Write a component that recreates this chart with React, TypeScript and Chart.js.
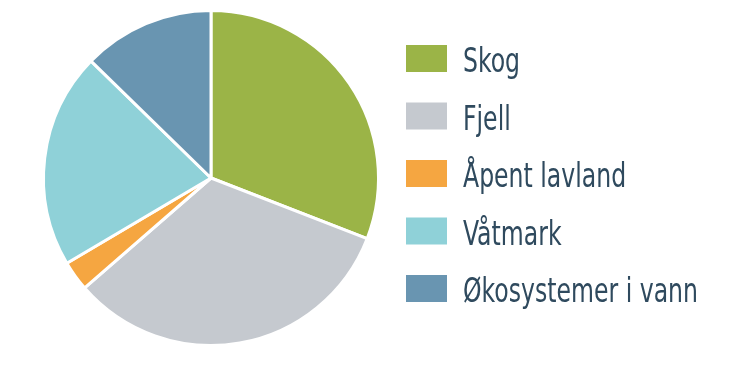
import React, { useEffect, useRef } from "react";
import { Chart, registerables } from "chart.js";

Chart.register(...registerables);

const categories = ["Skog", "Fjell", "Åpent lavland", "Våtmark", "Økosystemer i vann"];
const shares = [30.9, 32.7, 2.9, 20.8, 12.7];
const colors = ["#9bb447", "#c5c9cf", "#f5a641", "#8fd1d8", "#6995b1"];

const legendPlugin = {
  id: "customLegend",
  afterDraw(chart: any) {
    const ctx = chart.ctx;
    const labels = chart.data.labels as string[];
    const bg = chart.data.datasets[0].backgroundColor as string[];
    ctx.save();
    ctx.font = '33px "Liberation Sans Narrow", "DejaVu Sans Condensed", sans-serif';
    ctx.textBaseline = "alphabetic";
    ctx.textAlign = "left";
    let maxW = 0;
    labels.forEach((lab) => {
      maxW = Math.max(maxW, ctx.measureText(lab).width);
    });
    const sx = Math.min(1, 235 / maxW);
    labels.forEach((lab, i) => {
      const top = 45 + i * 57.5;
      ctx.fillStyle = bg[i];
      ctx.fillRect(406, top, 41, 27);
      ctx.fillStyle = "#2f4a5e";
      ctx.save();
      ctx.translate(463, top + 27);
      ctx.scale(sx, 1);
      ctx.fillText(lab, 0, 0);
      ctx.restore();
    });
    ctx.restore();
  },
};

export default function App() {
  const ref = useRef<HTMLCanvasElement>(null);
  useEffect(() => {
    document.body.style.margin = "0";
    const chart = new Chart(ref.current!, {
      type: "pie",
      data: {
        labels: categories,
        datasets: [
          {
            data: shares,
            backgroundColor: colors,
            borderColor: "#ffffff",
            borderWidth: 3,
            hoverOffset: 0,
          },
        ],
      },
      options: {
        animation: false,
        responsive: false,
        layout: { padding: { left: 42, top: 9, right: 358, bottom: 22 } },
        plugins: { legend: { display: false }, tooltip: { enabled: false } },
      },
      plugins: [legendPlugin],
    });
    return () => chart.destroy();
  }, []);
  return (
    <div style={{ width: 738, height: 369, background: "#fff" }}>
      <canvas ref={ref} width={738} height={369} />
    </div>
  );
}
